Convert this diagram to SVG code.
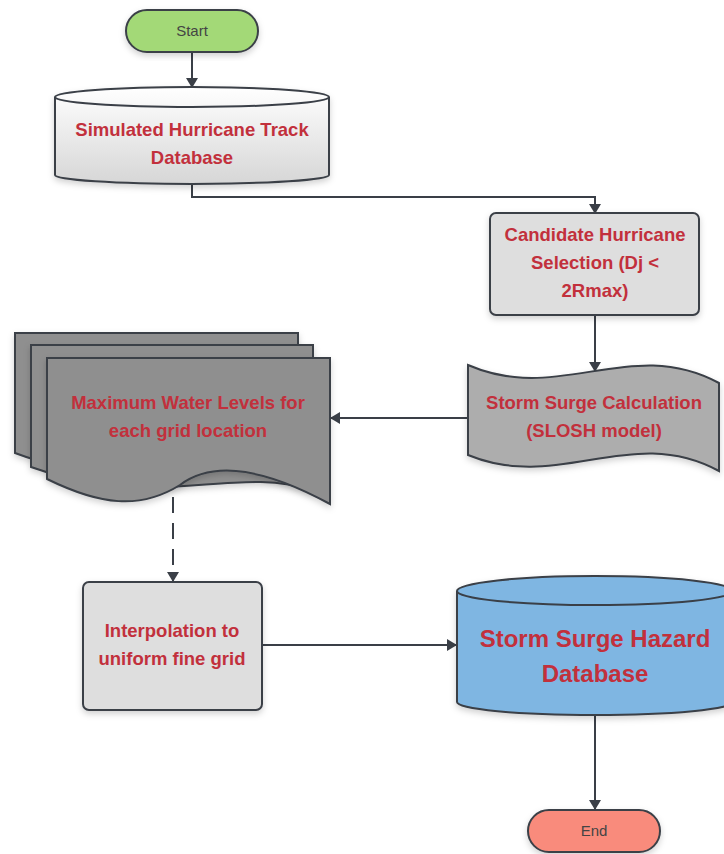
<svg xmlns="http://www.w3.org/2000/svg" width="724" height="854" viewBox="0 0 724 854">
<defs>
<linearGradient id="gGray" x1="0" y1="0" x2="0" y2="1">
<stop offset="0" stop-color="#ffffff"/>
<stop offset="1" stop-color="#d6d6d6"/>
</linearGradient>
<filter id="sh" x="-10%" y="-10%" width="130%" height="130%">
<feDropShadow dx="0" dy="3" stdDeviation="3" flood-color="#000" flood-opacity="0.18"/>
</filter>
<marker id="arr" viewBox="0 0 10 12" refX="9" refY="6" markerWidth="10" markerHeight="12" markerUnits="userSpaceOnUse" orient="auto">
<path d="M0,0 L10,6 L0,12 Z" fill="#3a3f47"/>
</marker>
</defs>
<style>
.shape{stroke:#3a3f47;stroke-width:2;filter:url(#sh)}
.lbl{font-family:"Liberation Sans",Arial,sans-serif;font-weight:bold;fill:#c2303c;text-anchor:middle}
.term{font-family:"Liberation Sans",Arial,sans-serif;fill:#444;font-size:15px;text-anchor:middle}
.conn{fill:none;stroke:#3a3f47;stroke-width:2}
</style>
<rect width="724" height="854" fill="#ffffff"/>

<g id="connectors">
<path class="conn" d="M192,52 L192,87" marker-end="url(#arr)"/>
<path class="conn" d="M192,183 L192,197 L595,197 L595,213" marker-end="url(#arr)"/>
<path class="conn" d="M595,315 L595,371" marker-end="url(#arr)"/>
<path class="conn" d="M468,418 L331,418" marker-end="url(#arr)"/>
<path class="conn" d="M173,497 L173,581" stroke-dasharray="16,10" marker-end="url(#arr)"/>
<path class="conn" d="M262,645 L456,645" marker-end="url(#arr)"/>
<path class="conn" d="M595,715 L595,809" marker-end="url(#arr)"/>
</g>

<g id="start">
<rect class="shape" x="126" y="10" width="132" height="42" rx="21" fill="#a3d977"/>
<text class="term" x="192" y="36">Start</text>
</g>

<g id="track-db">
<path class="shape" d="M55,97 L55,175 A137,9 0 0 0 329,175 L329,97 A137,10 0 0 0 55,97 Z" fill="url(#gGray)"/>
<path d="M55,97 A137,10 0 0 0 329,97" fill="none" stroke="#3a3f47" stroke-width="2"/>
<text class="lbl" font-size="18.5" x="192" y="136">Simulated Hurricane Track</text>
<text class="lbl" font-size="18.5" x="192" y="164">Database</text>
</g>

<g id="candidate">
<rect class="shape" x="490" y="213" width="209" height="102" rx="6" fill="#dedede"/>
<text class="lbl" font-size="18.5" x="595" y="241">Candidate Hurricane</text>
<text class="lbl" font-size="18.5" x="595" y="269">Selection (Dj &lt;</text>
<text class="lbl" font-size="18.5" x="595" y="297">2Rmax)</text>
</g>

<g id="slosh">
<path class="shape" d="M468,365 C560,405 630,335 719,383 L719,471 C630,423 560,493 468,455 Z" fill="#adadad"/>
<text class="lbl" font-size="18.5" x="594" y="409">Storm Surge Calculation</text>
<text class="lbl" font-size="18.5" x="594" y="437">(SLOSH model)</text>
</g>

<g id="max-water">
<path class="shape" d="M15,333 L298,333 L298,478 C220,450 140,500 15,453 Z" fill="#8f8f8f"/>
<path class="shape" d="M31,345 L313,345 L313,491 C235,463 155,513 31,467 Z" fill="#8f8f8f"/>
<path class="shape" d="M47,358 L330,358 L330,504 C240,455 200,470 180,485 C140,510 100,505 47,479 Z" fill="#8f8f8f"/>
<text class="lbl" font-size="18.5" x="188" y="409">Maximum Water Levels for</text>
<text class="lbl" font-size="18.5" x="188" y="437">each grid location</text>
</g>

<g id="interp">
<rect class="shape" x="83" y="582" width="179" height="128" rx="6" fill="#dedede"/>
<text class="lbl" font-size="18.5" x="172" y="637">Interpolation to</text>
<text class="lbl" font-size="18.5" x="172" y="665">uniform fine grid</text>
</g>

<g id="hazard-db">
<path class="shape" d="M457,591 L457,702 A138,13 0 0 0 733,702 L733,591 A138,15 0 0 0 457,591 Z" fill="#7fb6e2"/>
<path d="M457,591 A138,14 0 0 0 733,591" fill="none" stroke="#3a3f47" stroke-width="2"/>
<text class="lbl" font-size="24" x="595" y="647">Storm Surge Hazard</text>
<text class="lbl" font-size="24" x="595" y="682">Database</text>
</g>

<g id="end">
<rect class="shape" x="528" y="810" width="132" height="42" rx="21" fill="#f98b7b"/>
<text class="term" x="594" y="836">End</text>
</g>
</svg>
